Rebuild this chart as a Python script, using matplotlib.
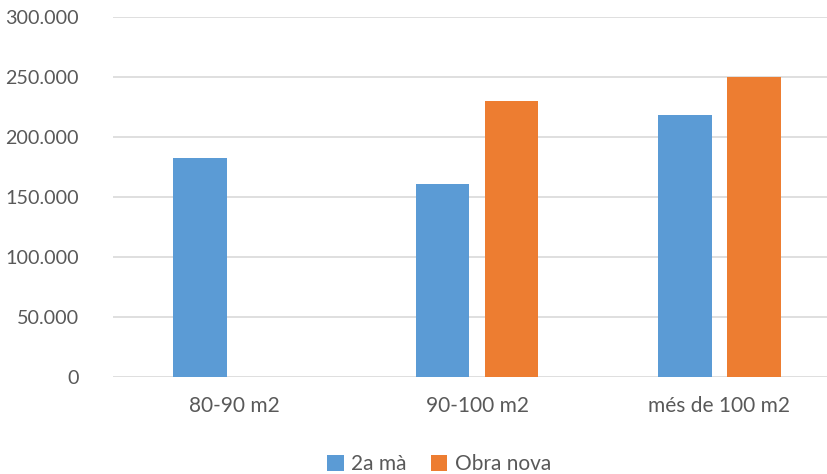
import matplotlib.pyplot as plt
import numpy as np
from matplotlib.ticker import FuncFormatter

categories = ["80-90 m2", "90-100 m2", "més de 100 m2"]
segona_ma = [182000, 161000, 218000]
obra_nova = [np.nan, 230000, 250000]
series_names = ["2a mà", "Obra nova"]

BLUE = "#5B9BD5"
ORANGE = "#ED7D31"
TEXT = "#595959"
GRID = "#D9D9D9"

plt.rcParams["font.family"] = ["Lato", "DejaVu Sans"]

fig = plt.figure(figsize=(8.27, 4.74), dpi=100)
ax = fig.add_axes([113.25 / 827, 97 / 474, 727.5 / 827, 360.5 / 474])

x = np.arange(len(categories))
width = 0.222
offset = 0.142
ax.bar(x - offset, segona_ma, width, color=BLUE, label=series_names[0], zorder=3)
ax.bar(x + offset, obra_nova, width, color=ORANGE, label=series_names[1], zorder=3)

ax.set_xlim(-0.5, len(categories) - 0.5)
ax.set_ylim(0, 300000)
ax.set_yticks(np.arange(0, 300001, 50000))
ax.yaxis.set_major_formatter(
    FuncFormatter(lambda v, _: f"{int(v):,}".replace(",", "."))
)
ax.set_xticks(x)
ax.set_xticklabels(categories)

ax.grid(axis="y", color=GRID, linewidth=1.2, zorder=0)
for s in ax.spines.values():
    s.set_visible(False)
ax.tick_params(axis="both", length=0, labelcolor=TEXT)
ax.tick_params(axis="y", pad=25, labelsize=14.2)
ax.tick_params(axis="x", pad=14, labelsize=15)

fig.legend(
    loc="center",
    bbox_to_anchor=(439 / 827, 1 - 464 / 474),
    ncol=2,
    frameon=False,
    fontsize=15,
    labelcolor=TEXT,
    handlelength=0.8,
    handleheight=0.8,
    handletextpad=0.35,
    columnspacing=1.15,
)

fig.savefig("out.png", dpi=100)
